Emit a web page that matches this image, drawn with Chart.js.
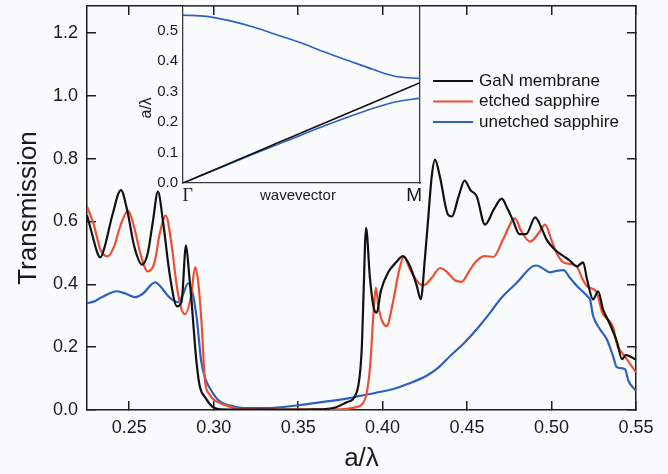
<!DOCTYPE html>
<html>
<head>
<meta charset="utf-8">
<script src="https://cdn.jsdelivr.net/npm/chart.js@4.4.0/dist/chart.umd.min.js"></script>
<style>
  html, body { margin: 0; padding: 0; background: #fafbfd; }
  #wrap { position: relative; width: 668px; height: 474px; }
  #main { position: absolute; left: 0; top: 0; }
  #inset { position: absolute; left: 130px; top: 0; }
</style>
</head>
<body>
<div id="wrap">
  <canvas id="main" width="668" height="474"></canvas>
  <canvas id="inset" width="310" height="215"></canvas>
</div>
<script>
// main spectrum: [a/lambda, transmission]
const gaNMembrane = [
  [0.225,0.62],[0.228,0.56],[0.2315,0.495],[0.233,0.486],[0.2355,0.52],[0.240,0.62],[0.2451,0.70],[0.249,0.63],
  [0.253,0.52],[0.2576,0.463],[0.261,0.50],[0.264,0.60],[0.267,0.695],[0.270,0.60],[0.274,0.43],[0.2783,0.33],
  [0.281,0.345],[0.2836,0.524],[0.2855,0.43],[0.287,0.34],[0.289,0.20],[0.2905,0.12],[0.292,0.07],[0.295,0.04],
  [0.2975,0.02],[0.300,0.008],[0.304,0.002],[0.33,0.001],[0.36,0.002],[0.372,0.008],[0.3788,0.025],[0.3847,0.057],
  [0.3876,0.19],[0.3886,0.35],[0.3902,0.58],[0.3925,0.42],[0.395,0.32],[0.3965,0.31],[0.399,0.38],[0.4035,0.44],
  [0.408,0.47],[0.412,0.49],[0.416,0.46],[0.420,0.40],[0.4226,0.352],[0.425,0.48],[0.4271,0.617],[0.429,0.74],
  [0.431,0.797],[0.434,0.74],[0.4387,0.622],[0.441,0.616],[0.445,0.68],[0.4485,0.73],[0.452,0.70],[0.4557,0.68],
  [0.4606,0.59],[0.466,0.64],[0.4705,0.673],[0.474,0.64],[0.477,0.606],[0.481,0.56],[0.485,0.56],[0.4903,0.613],
  [0.494,0.58],[0.497,0.543],[0.502,0.51],[0.507,0.49],[0.511,0.475],[0.515,0.457],[0.5187,0.47],[0.521,0.416],
  [0.5246,0.352],[0.5276,0.378],[0.5305,0.32],[0.534,0.28],[0.5388,0.216],[0.5417,0.162],[0.544,0.175],
  [0.5465,0.17],[0.550,0.16]
];
const etchedSapphire = [
  [0.225,0.648],[0.229,0.59],[0.233,0.51],[0.2372,0.489],[0.241,0.52],[0.245,0.59],[0.2493,0.635],[0.253,0.58],
  [0.257,0.49],[0.261,0.441],[0.265,0.47],[0.268,0.56],[0.2716,0.619],[0.275,0.53],[0.278,0.40],[0.281,0.32],
  [0.283,0.305],[0.2865,0.36],[0.289,0.454],[0.291,0.40],[0.2929,0.27],[0.2949,0.09],[0.2975,0.05],[0.2996,0.035],
  [0.3077,0.014],[0.315,0.004],[0.34,0.001],[0.375,0.002],[0.3847,0.01],[0.3896,0.035],[0.3926,0.14],[0.3945,0.30],
  [0.396,0.39],[0.3975,0.33],[0.400,0.28],[0.4024,0.267],[0.406,0.34],[0.410,0.45],[0.4127,0.489],[0.416,0.45],
  [0.421,0.406],[0.424,0.397],[0.429,0.42],[0.434,0.452],[0.438,0.44],[0.443,0.412],[0.4468,0.408],[0.451,0.44],
  [0.4557,0.475],[0.4605,0.49],[0.4656,0.487],[0.4713,0.543],[0.4784,0.61],[0.482,0.57],[0.4873,0.536],[0.492,0.56],
  [0.4962,0.59],[0.500,0.54],[0.503,0.50],[0.507,0.47],[0.511,0.465],[0.515,0.457],[0.518,0.42],[0.521,0.394],
  [0.5267,0.375],[0.530,0.31],[0.533,0.29],[0.5365,0.263],[0.539,0.204],[0.5415,0.184],[0.5445,0.162],[0.550,0.12]
];
const unetchedSapphire = [
  [0.225,0.34],[0.229,0.345],[0.234,0.36],[0.2428,0.378],[0.248,0.37],[0.2534,0.359],[0.258,0.37],[0.2653,0.406],
  [0.269,0.39],[0.2735,0.36],[0.2789,0.343],[0.282,0.37],[0.2848,0.403],[0.287,0.384],[0.290,0.29],[0.2925,0.16],
  [0.295,0.10],[0.298,0.067],[0.303,0.03],[0.3097,0.014],[0.318,0.006],[0.331,0.006],[0.351,0.016],[0.365,0.026],
  [0.3807,0.038],[0.3866,0.045],[0.396,0.055],[0.4064,0.067],[0.416,0.085],[0.426,0.109],[0.433,0.135],[0.44,0.172],
  [0.448,0.212],[0.4557,0.257],[0.463,0.305],[0.4695,0.352],[0.4794,0.405],[0.489,0.458],[0.4912,0.46],[0.495,0.45],
  [0.499,0.438],[0.503,0.443],[0.507,0.445],[0.511,0.42],[0.515,0.395],[0.5216,0.36],[0.5228,0.352],[0.5246,0.30],
  [0.5287,0.257],[0.5327,0.225],[0.5365,0.17],[0.5386,0.136],[0.5435,0.13],[0.5455,0.093],[0.550,0.061]
];
const seriesLabels = ['GaN membrane', 'etched sapphire', 'unetched sapphire'];
const seriesColors = ['#111111', '#f04e32', '#2e5fc2'];
const xTicks = [0.25, 0.30, 0.35, 0.40, 0.45, 0.50, 0.55];
const yTicks = [0, 0.2, 0.4, 0.6, 0.8, 1.0, 1.2];

// inset band diagram
const bandK = [0, 0.1, 0.2, 0.3, 0.4, 0.5, 0.6, 0.7, 0.8, 0.9, 1.0];
const upperBand = [0.552, 0.548, 0.533, 0.512, 0.486, 0.46, 0.43, 0.402, 0.374, 0.35, 0.344];
const lightLine = [0, 0.033, 0.066, 0.099, 0.132, 0.165, 0.198, 0.231, 0.264, 0.297, 0.33];
const lowerBand = [0, 0.032, 0.064, 0.096, 0.127, 0.158, 0.189, 0.218, 0.245, 0.267, 0.279];
const insetYTicks = [0, 0.1, 0.2, 0.3, 0.4, 0.5];
const insetXTicks = [0.02, 0.485, 0.975];
const insetXLabels = ['\u0393', 'wavevector', 'M'];

const FONT = "'Liberation Sans', Arial, sans-serif";
const AXIS = '#1e1e1e';
Chart.defaults.font.family = FONT;
Chart.defaults.color = '#1a1a1a';

// pin axis box sizes so the plot area sits where it does in the figure
function fixSize(size) {
  return scale => {
    if (scale.isHorizontal()) scale.height = size;
    else scale.width = size;
    scale.paddingTop = scale.paddingBottom = scale.paddingLeft = scale.paddingRight = 0;
  };
}
function setTicks(values) {
  return scale => { scale.ticks = values.map(v => ({ value: v })); };
}
const toXY = arr => arr.map(p => ({ x: p[0], y: p[1] }));

const insideLegend = {
  id: 'insideLegend',
  afterDraw(chart) {
    const { ctx } = chart;
    ctx.save();
    ctx.font = '17px ' + FONT;
    ctx.textBaseline = 'middle';
    chart.data.datasets.forEach((ds, i) => {
      const y = 81 + i * 20.5;
      ctx.strokeStyle = ds.borderColor;
      ctx.lineWidth = 2.2;
      ctx.beginPath();
      ctx.moveTo(433, y);
      ctx.lineTo(473, y);
      ctx.stroke();
      ctx.fillStyle = '#111';
      ctx.fillText(ds.label, 479, y);
    });
    ctx.restore();
  }
};

const frameAxis = (pos, min, max, ticks, size) => ({
  type: 'linear', position: pos, min, max,
  afterBuildTicks: setTicks(ticks),
  afterFit: fixSize(size),
  ticks: { display: false },
  grid: { drawOnChartArea: false, tickLength: -9, color: AXIS, lineWidth: 1.5 },
  border: { color: AXIS, width: 1.5 }
});

new Chart(document.getElementById('main'), {
  type: 'line',
  data: {
    datasets: [gaNMembrane, etchedSapphire, unetchedSapphire].map((s, i) => ({
      label: seriesLabels[i],
      data: toXY(s),
      borderColor: seriesColors[i],
      backgroundColor: seriesColors[i],
      borderWidth: 2.2,
      pointRadius: 0,
      cubicInterpolationMode: 'monotone',
      xAxisID: 'x',
      yAxisID: 'y'
    }))
  },
  options: {
    responsive: false,
    animation: false,
    devicePixelRatio: 1,
    layout: { padding: 0 },
    plugins: { legend: { display: false }, tooltip: { enabled: false } },
    scales: {
      x: {
        type: 'linear', position: 'bottom', min: 0.225, max: 0.55,
        afterBuildTicks: setTicks(xTicks),
        afterFit: fixSize(64),
        ticks: { padding: 16, font: { size: 18 }, maxRotation: 0, callback: v => v.toFixed(2) },
        grid: { drawOnChartArea: false, tickLength: -9, color: AXIS, lineWidth: 1.5 },
        border: { color: AXIS, width: 1.5 },
        title: { display: true, text: 'a/\u03bb', font: { size: 26 }, padding: { top: 0, bottom: 0 } }
      },
      x2: frameAxis('top', 0.225, 0.55, xTicks, 6),
      y: {
        type: 'linear', position: 'left', min: 0, max: 1.286,
        afterBuildTicks: setTicks(yTicks),
        afterFit: fixSize(87),
        ticks: { padding: 18, font: { size: 18 }, callback: v => v.toFixed(1) },
        grid: { drawOnChartArea: false, tickLength: -9, color: AXIS, lineWidth: 1.5 },
        border: { color: AXIS, width: 1.5 },
        title: { display: true, text: 'Transmission', font: { size: 26 }, padding: { top: 13, bottom: 0 } }
      },
      y2: frameAxis('right', 0, 1.286, yTicks, 32)
    }
  },
  plugins: [insideLegend]
});

const INSET_AXIS = '#3a3a3a';
const insetFrame = (pos, min, max, size) => ({
  type: 'linear', position: pos, min, max,
  afterFit: fixSize(size),
  ticks: { display: false },
  grid: { drawOnChartArea: false, drawTicks: false },
  border: { color: INSET_AXIS, width: 1.3 }
});

new Chart(document.getElementById('inset'), {
  type: 'line',
  data: {
    datasets: [
      { label: 'upper band', data: bandK.map((k, i) => ({ x: k, y: upperBand[i] })), borderColor: '#2e5fc2' },
      { label: 'light line', data: bandK.map((k, i) => ({ x: k, y: lightLine[i] })), borderColor: '#111111' },
      { label: 'lower band', data: bandK.map((k, i) => ({ x: k, y: lowerBand[i] })), borderColor: '#2e5fc2' }
    ].map(d => Object.assign(d, { borderWidth: 1.6, pointRadius: 0, cubicInterpolationMode: 'monotone' }))
  },
  options: {
    responsive: false,
    animation: false,
    devicePixelRatio: 1,
    layout: { padding: 0 },
    plugins: { legend: { display: false }, tooltip: { enabled: false } },
    scales: {
      x: {
        type: 'linear', position: 'bottom', min: 0, max: 1,
        afterBuildTicks: setTicks(insetXTicks),
        afterFit: fixSize(32),
        ticks: {
          padding: 4, maxRotation: 0, autoSkip: false,
          callback: (v, i) => insetXLabels[i],
          font: c => c.index === 0
            ? { family: "'Liberation Serif', 'Times New Roman', serif", size: 18, lineHeight: '18px' }
            : c.index === 2 ? { size: 19, lineHeight: '18px' } : { size: 15, lineHeight: '18px' }
        },
        grid: { drawOnChartArea: false, drawTicks: false },
        border: { color: INSET_AXIS, width: 1.3 }
      },
      x2: insetFrame('top', 0, 1, 6),
      y: {
        type: 'linear', position: 'left', min: 0, max: 0.582,
        afterBuildTicks: setTicks(insetYTicks),
        afterFit: fixSize(53),
        ticks: { padding: 5, font: { size: 15 }, callback: v => v.toFixed(1) },
        grid: { drawOnChartArea: false, drawTicks: false },
        border: { color: INSET_AXIS, width: 1.3 },
        title: { display: true, text: 'a/\u03bb      ', font: { size: 16 }, padding: { top: 7, bottom: 0 } }
      },
      y2: insetFrame('right', 0, 0.582, 20)
    }
  }
});
</script>
</body>
</html>
